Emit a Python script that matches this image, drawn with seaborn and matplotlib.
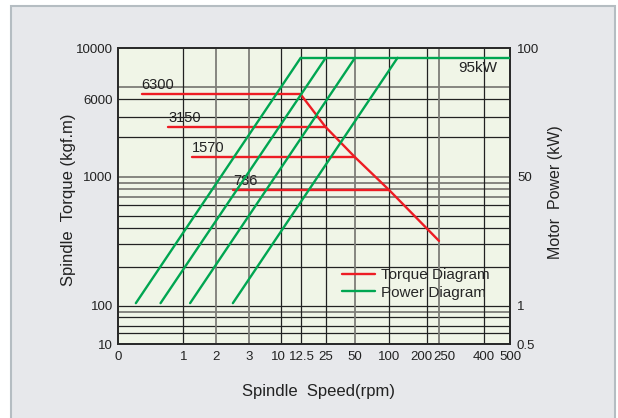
import numpy as np
import pandas as pd
import matplotlib
matplotlib.use("Agg")
import matplotlib.pyplot as plt
from matplotlib.lines import Line2D
from matplotlib.patches import Rectangle
from matplotlib.transforms import ScaledTranslation
import seaborn as sns

# chart values
speed_ticks = [0, 1, 2, 3, 10, 12.5, 25, 50, 100, 200, 250, 400, 500]
torque_ticks = [10, 100, 1000, 6000, 10000]
power_ticks = [0.5, 1, 50, 100]

torque_levels = [6300, 3150, 1570, 786]
torque_from_rpm = [0.36, 0.77, 1.28, 2.53]
torque_to_rpm = [12.5, 25, 50, 100]
torque_tail_rpm = 250
torque_tail = 318

power_from_rpm = [0.27, 0.65, 1.21, 2.52]
power_to_rpm = [12.5, 25, 50, 122]
power_from_kw = 1.08
rated_kw = 95
max_rpm = 500

# grid lines of the drawing
torque_grid_dark = [20, 30, 50, 100, 200, 300, 400, 500, 600, 2500, 4000, 6000]
torque_grid_gray = [70, 700, 800, 900, 1000, 6800]
speed_grid_dark = [1, 10, 12.5, 25, 100, 200, 400]
speed_grid_gray = [2, 3, 50, 250]

# the axes are hand drawn: each scale is pinned to where its ticks sit (pixels)
speed_tick_px = [118.3, 183.3, 215.7, 248.7, 281, 300.7, 325.7, 355, 389.3, 426.7, 439, 483.7, 510]
torque_tick_px = [344.3, 305.7, 176.7, 99.3, 48.3]
power_tick_px = [344.3, 305.7, 176.7, 48.3]

# crowded x labels are nudged apart (pixels)
label_nudge = {10: -2.5, 12.5: 1.5, 200: -5.5, 250: 5}

RED = "#ed1c24"
GREEN = "#00a651"


def lin_scale(knots, px):
    px = np.asarray(px, float)
    return (lambda v: np.interp(v, knots, px),
            lambda p: np.interp(p, px, knots))


def log_scale(knots, px):
    lk = np.log10(knots)
    p = -np.asarray(px, float)
    return (lambda v: np.interp(np.log10(np.clip(v, 1e-9, None)), lk, p),
            lambda q: 10 ** np.interp(q, p, lk))


sns.set_theme(style="white")
plt.rcParams["font.family"] = ["Liberation Sans", "DejaVu Sans"]

# tables for seaborn
rows = []
for i, lvl in enumerate(torque_levels):
    rows.append((i, torque_from_rpm[i], lvl))
    rows.append((i, torque_to_rpm[i], lvl))
for r, lvl in zip(torque_to_rpm, torque_levels):
    rows.append((9, r, lvl))
rows.append((9, torque_tail_rpm, torque_tail))
torque_df = pd.DataFrame(rows, columns=["seg", "rpm", "torque"])

rows = []
for i in range(len(power_from_rpm)):
    rows.append((i, power_from_rpm[i], power_from_kw))
    rows.append((i, power_to_rpm[i], rated_kw))
rows.append((9, torque_to_rpm[0], rated_kw))
rows.append((9, max_rpm, rated_kw))
power_df = pd.DataFrame(rows, columns=["seg", "rpm", "power"])

fig = plt.figure(figsize=(6.18, 4.18), dpi=100, facecolor="white")
fig.patches.append(Rectangle((11 / 618, -0.05), 604 / 618, 1.05 - 6 / 418,
                             transform=fig.transFigure, facecolor="#e7e8eb",
                             edgecolor="#b5bdc2", lw=1.5, zorder=-10))

ax = fig.add_axes([118.3 / 618, (418 - 344.3) / 418, (510 - 118.3) / 618, (344.3 - 48.3) / 418])
ax.set_facecolor("#f0f5e7")
ax.set_xscale("function", functions=lin_scale(speed_ticks, speed_tick_px))
ax.set_yscale("function", functions=log_scale(torque_ticks, torque_tick_px))

for v in torque_grid_dark:
    ax.axhline(v, color="#222222", lw=0.9, zorder=1)
for v in torque_grid_gray:
    ax.axhline(v, color="#7d7d78", lw=1.3, zorder=1)
for v in speed_grid_dark:
    ax.axvline(v, color="#222222", lw=0.9, zorder=1)
for v in speed_grid_gray:
    ax.axvline(v, color="#7d7d78", lw=1.3, zorder=1)

sns.lineplot(data=torque_df, x="rpm", y="torque", units="seg", estimator=None,
             sort=False, color=RED, lw=1.7, legend=False, ax=ax, zorder=3)

for lvl, r in zip(torque_levels, torque_from_rpm):
    ax.annotate(str(lvl), (r, lvl), xytext=(0, 1.5), textcoords="offset points",
                ha="left", va="bottom", fontsize=10.5, color="#222222")

ax.set_xlim(speed_ticks[0], speed_ticks[-1])
ax.set_ylim(torque_ticks[0], torque_ticks[-1])
ax.set_xticks(speed_ticks)
ax.set_xticklabels([f"{t:g}" for t in speed_ticks])
ax.set_yticks(torque_ticks)
ax.set_yticklabels([str(t) for t in torque_ticks])
ax.minorticks_off()
ax.tick_params(length=0, labelsize=9.5, colors="#222222")
ax.tick_params(axis="x", pad=5)
ax.tick_params(axis="y", pad=4)

for lab, t in zip(ax.get_xticklabels(), speed_ticks):
    if t in label_nudge:
        lab.set_transform(lab.get_transform()
                          + ScaledTranslation(label_nudge[t] / 100, 0, fig.dpi_scale_trans))

ax.set_xlabel("Spindle  Speed(rpm)", fontsize=12, color="#222222")
ax.xaxis.set_label_coords(0.51, -0.135)
ax.set_ylabel("Spindle  Torque (kgf.m)", fontsize=12, color="#222222")
ax.yaxis.set_label_coords(-0.108, 0.488)

tw = ax.twinx()
tw.set_yscale("function", functions=log_scale(power_ticks, power_tick_px))
sns.lineplot(data=power_df, x="rpm", y="power", units="seg", estimator=None,
             sort=False, color=GREEN, lw=1.7, legend=False, ax=tw, zorder=3)
tw.set_ylim(power_ticks[0], power_ticks[-1])
tw.set_yticks(power_ticks)
tw.set_yticklabels([f"{t:g}" for t in power_ticks])
tw.minorticks_off()
tw.tick_params(length=0, labelsize=9.5, colors="#222222", pad=5)
tw.set_ylabel("Motor  Power (kW)", fontsize=11.5, color="#222222")
tw.yaxis.set_label_coords(1.097, 0.515)
tw.set_xlabel("")

tw.annotate(f"{rated_kw}kW", (max_rpm, rated_kw), xytext=(-9.5, -2.5),
            textcoords="offset points", ha="right", va="top", fontsize=11, color="#222222")

handles = [Line2D([], [], color=RED, lw=1.7), Line2D([], [], color=GREEN, lw=1.7)]
tw.legend(handles, ["Torque Diagram", "Power Diagram"], loc="upper left",
          bbox_to_anchor=(0.570, 0.258), frameon=False, borderpad=0, borderaxespad=0,
          handlelength=2.2, handletextpad=0.35, labelspacing=0.25, fontsize=11)

for a in (ax, tw):
    for s in a.spines.values():
        s.set_color("#2a2a2a")
        s.set_linewidth(1.3)

fig.savefig("out.png", dpi=100, facecolor=fig.get_facecolor())
